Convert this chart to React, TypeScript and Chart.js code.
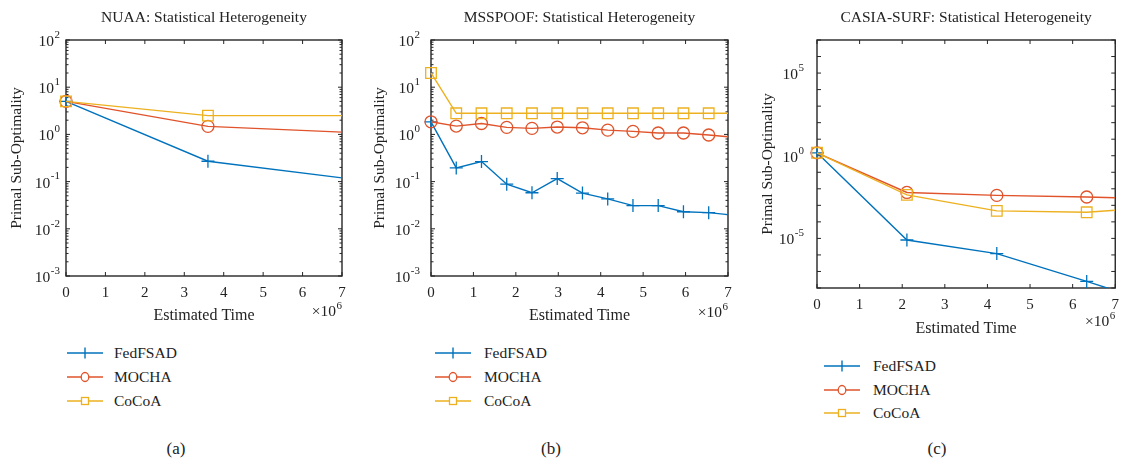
import React, { useEffect, useRef } from 'react';
import { Chart, registerables } from 'chart.js';

Chart.register(...registerables);

// ---------------- data ----------------
const SERIES_NAMES = ['FedFSAD', 'MOCHA', 'CoCoA'];

// (a) NUAA
const nuaaTime = [0, 3.6e6, 7e6];
const nuaaMarked = [true, true, false];
const nuaaFedFSAD = [5.0, 0.27, 0.12];
const nuaaMOCHA = [5.0, 1.48, 1.12];
const nuaaCoCoA = [5.0, 2.5, 2.5];

// (b) MSSPOOF
const mssTime = [0, 0.595e6, 1.19e6, 1.785e6, 2.38e6, 2.975e6, 3.57e6, 4.165e6, 4.76e6, 5.355e6, 5.95e6, 6.545e6, 7e6];
const mssMarked = [true, true, true, true, true, true, true, true, true, true, true, true, false];
const mssFedFSAD = [1.85, 0.195, 0.266, 0.088, 0.058, 0.116, 0.057, 0.043, 0.031, 0.031, 0.023, 0.022, 0.020];
const mssMOCHA = [1.85, 1.5, 1.7, 1.41, 1.34, 1.43, 1.38, 1.23, 1.16, 1.07, 1.07, 0.97, 0.89];
const mssCoCoA = [20, 2.8, 2.8, 2.8, 2.8, 2.8, 2.8, 2.8, 2.8, 2.8, 2.8, 2.8, 2.8];

// (c) CASIA-SURF
const casiaTime = [0, 2.11e6, 4.22e6, 6.33e6, 7e6];
const casiaMarked = [true, true, true, true, false];
const casiaFedFSAD = [1.5, 8e-6, 1.2e-6, 2.5e-8, 7e-9];
const casiaMOCHA = [1.5, 6e-3, 4e-3, 3.2e-3, 2.9e-3];
const casiaCoCoA = [1.5, 4.3e-3, 4.6e-4, 3.8e-4, 5e-4];

// x tick labels (in units of 10^6)
const xTickValues = [0, 1, 2, 3, 4, 5, 6, 7];
// y decades (exponents)
const nuaaExps = [-3, -2, -1, 0, 1, 2];
const mssExps = [-3, -2, -1, 0, 1, 2];
const casiaExps = [-8, -7, -6, -5, -4, -3, -2, -1, 0, 1, 2, 3, 4, 5, 6, 7];
const casiaLabelExps = [-5, 0, 5];

const PANEL_TITLES = [
  'NUAA: Statistical Heterogeneity',
  'MSSPOOF: Statistical Heterogeneity',
  'CASIA-SURF: Statistical Heterogeneity',
];
const CAPTIONS = ['(a)', '(b)', '(c)'];

// ---------------- styles ----------------
const FONT = '"Liberation Serif", "Times New Roman", serif';
const AXIS = '#262626';
const TEXT = '#222222';
const COLORS = ['#0072BD', '#E0532B', '#EDB120'];
const POINT_STYLES = ['cross', 'circle', 'rect'];
const POINT_RADII = [6.5, 6, 7.5];

const decorPlugin = {
  id: 'decor',
  beforeDatasetsDraw(chart: any, _args: any, opts: any) {
    const { ctx, chartArea } = chart;
    const { left, right, top, bottom } = chartArea;
    const xs = chart.scales.x;
    const ys = chart.scales.y;
    ctx.save();
    ctx.strokeStyle = AXIS;
    ctx.lineWidth = 1;
    ctx.beginPath();
    xs.ticks.forEach((t: any) => {
      const px = xs.getPixelForValue(t.value);
      ctx.moveTo(px, bottom);
      ctx.lineTo(px, bottom - 4);
      ctx.moveTo(px, top);
      ctx.lineTo(px, top + 4);
    });
    ys.ticks.forEach((t: any) => {
      const py = ys.getPixelForValue(t.value);
      const len = t.major ? 4 : 2.5;
      ctx.moveTo(left, py);
      ctx.lineTo(left + len, py);
      ctx.moveTo(right, py);
      ctx.lineTo(right - len, py);
    });
    ctx.stroke();
    ctx.lineWidth = 1.4;
    ctx.strokeRect(left, top, right - left, bottom - top);

    // y tick labels: 10 with raised exponent
    ctx.fillStyle = TEXT;
    ctx.textBaseline = 'middle';
    ys.ticks.forEach((t: any) => {
      if (!t.label) return;
      const py = ys.getPixelForValue(t.value);
      const exp = String(t.label);
      ctx.font = `11px ${FONT}`;
      const we = ctx.measureText(exp).width;
      ctx.textAlign = 'right';
      const xr = left - opts.yTickPad;
      ctx.fillText(exp, xr, py - 5);
      ctx.font = `15.5px ${FONT}`;
      ctx.fillText('10', xr - we - 0.5, py + 2);
    });
    ctx.restore();
  },
  afterDraw(chart: any, _args: any, opts: any) {
    const { ctx, chartArea } = chart;
    const { left, right } = chartArea;
    ctx.save();
    ctx.fillStyle = TEXT;
    ctx.font = `15.5px ${FONT}`;
    ctx.textAlign = 'center';
    ctx.textBaseline = 'middle';
    ctx.fillText(opts.title, (left + right) / 2, opts.titleY);
    // x10^6 multiplier
    ctx.font = `11px ${FONT}`;
    ctx.textAlign = 'right';
    const w6 = ctx.measureText('6').width;
    ctx.fillText('6', right, opts.expY - 6);
    ctx.font = `15.5px ${FONT}`;
    ctx.fillText('\u00D710', right - w6 - 0.5, opts.expY);
    ctx.restore();
  },
};

type Panel = {
  left: number; top: number; width: number; height: number;
  yAxisWidth: number; padRight: number; plotTop: number; xAxisHeight: number;
  yTitlePad: number; xTitlePadBottom: number; yTickPad: number; xTickPad: number;
  exps: number[]; labelExps: number[]; minor: boolean;
  title: string; titleY: number; expY: number;
  time: number[]; marked: boolean[]; values: number[][];
  legendLeft: number; legendTextLeft: number; legendRows: number[];
  caption: string; captionX: number;
};

const PANELS: Panel[] = [
  {
    left: 0, top: 0, width: 360, height: 330,
    yAxisWidth: 66, padRight: 18, plotTop: 40, xAxisHeight: 54,
    yTitlePad: 8, xTitlePadBottom: 5, yTickPad: 6, xTickPad: 8,
    exps: nuaaExps, labelExps: nuaaExps, minor: true,
    title: PANEL_TITLES[0], titleY: 18, expY: 312,
    time: nuaaTime, marked: nuaaMarked, values: [nuaaFedFSAD, nuaaMOCHA, nuaaCoCoA],
    legendLeft: 67, legendTextLeft: 114, legendRows: [353, 377, 401],
    caption: CAPTIONS[0], captionX: 176,
  },
  {
    left: 370, top: 0, width: 375, height: 330,
    yAxisWidth: 61, padRight: 17, plotTop: 40, xAxisHeight: 54,
    yTitlePad: 1, xTitlePadBottom: 5, yTickPad: 11, xTickPad: 8,
    exps: mssExps, labelExps: mssExps, minor: true,
    title: PANEL_TITLES[1], titleY: 18, expY: 313,
    time: mssTime, marked: mssMarked, values: [mssFedFSAD, mssMOCHA, mssCoCoA],
    legendLeft: 435, legendTextLeft: 484, legendRows: [353, 377, 401],
    caption: CAPTIONS[1], captionX: 551,
  },
  {
    left: 745, top: 0, width: 382, height: 345,
    yAxisWidth: 72, padRight: 10, plotTop: 40, xAxisHeight: 57,
    yTitlePad: 14, xTitlePadBottom: 7, yTickPad: 13, xTickPad: 8,
    exps: casiaExps, labelExps: casiaLabelExps, minor: false,
    title: PANEL_TITLES[2], titleY: 18, expY: 322,
    time: casiaTime, marked: casiaMarked, values: [casiaFedFSAD, casiaMOCHA, casiaCoCoA],
    legendLeft: 824, legendTextLeft: 873, legendRows: [366, 390, 413],
    caption: CAPTIONS[2], captionX: 937,
  },
];

function PanelChart({ p }: { p: Panel }) {
  const ref = useRef<HTMLCanvasElement>(null);
  useEffect(() => {
    if (!ref.current) return;
    const minExp = p.exps[0];
    const maxExp = p.exps[p.exps.length - 1];
    const tickFont = { family: FONT, size: 15 };
    const chart = new Chart(ref.current, {
      type: 'line',
      data: {
        datasets: SERIES_NAMES.map((name, si) => ({
          label: name,
          data: p.time.map((t, i) => ({ x: t, y: p.values[si][i] })),
          borderColor: COLORS[si],
          backgroundColor: 'rgba(0,0,0,0)',
          borderWidth: 1.4,
          pointStyle: POINT_STYLES[si] as any,
          pointRadius: p.marked.map((m) => (m ? POINT_RADII[si] : 0)),
          pointBorderColor: COLORS[si],
          pointBackgroundColor: 'rgba(0,0,0,0)',
          pointBorderWidth: 1.3,
          tension: 0,
          order: 3 - si,
          clip: { left: 12, top: 12, right: 0, bottom: 0 } as any,
        })),
      },
      options: {
        responsive: false,
        maintainAspectRatio: false,
        animation: false,
        events: [],
        layout: { padding: { top: p.plotTop, left: 0, right: p.padRight, bottom: 0 } },
        plugins: {
          legend: { display: false },
          tooltip: { enabled: false },
          title: { display: false },
          decor: { title: p.title, titleY: p.titleY, expY: p.expY, yTickPad: p.yTickPad },
        } as any,
        scales: {
          x: {
            type: 'linear',
            min: 0,
            max: 7e6,
            afterBuildTicks: (s: any) => {
              s.ticks = xTickValues.map((v) => ({ value: v * 1e6 }));
            },
            ticks: {
              callback: (v: any) => String(Math.round(Number(v) / 1e6)),
              font: tickFont,
              color: TEXT,
              padding: p.xTickPad,
              maxRotation: 0,
              autoSkip: false,
            },
            grid: { display: false, drawTicks: false },
            border: { display: false },
            title: {
              display: true,
              text: 'Estimated Time',
              font: { family: FONT, size: 16 },
              color: TEXT,
              padding: { top: 0, bottom: p.xTitlePadBottom },
            },
            afterFit: (s: any) => {
              s.height = p.xAxisHeight;
            },
          },
          y: {
            type: 'logarithmic',
            min: Math.pow(10, minExp),
            max: Math.pow(10, maxExp),
            afterBuildTicks: (s: any) => {
              const ticks: any[] = [];
              p.exps.forEach((e, idx) => {
                ticks.push({ value: Math.pow(10, e), major: p.labelExps.includes(e) || !p.minor });
                if (p.minor && idx < p.exps.length - 1) {
                  for (let k = 2; k <= 9; k++) ticks.push({ value: k * Math.pow(10, e), major: false });
                }
              });
              s.ticks = ticks;
            },
            ticks: {
              // exponent text; drawn as 10 with a raised exponent by the decor plugin
              callback: (v: any) => {
                const e = Math.round(Math.log10(Number(v)));
                if (Math.abs(Math.pow(10, e) - Number(v)) / Number(v) > 1e-6) return '';
                return p.labelExps.includes(e) ? String(e) : '';
              },
              display: false,
              autoSkip: false,
            },
            grid: { display: false, drawTicks: false },
            border: { display: false },
            title: {
              display: true,
              text: 'Primal Sub-Optimality',
              font: { family: FONT, size: 15.5 },
              color: TEXT,
              padding: { top: p.yTitlePad, bottom: 0 },
            },
            afterFit: (s: any) => {
              s.width = p.yAxisWidth;
            },
          },
        } as any,
      },
      plugins: [decorPlugin as any],
    });
    return () => chart.destroy();
  }, [p]);
  return (
    <canvas
      ref={ref}
      width={p.width}
      height={p.height}
      style={{ position: 'absolute', left: p.left, top: p.top, width: p.width, height: p.height }}
    />
  );
}

function LegendMarker({ si }: { si: number }) {
  const c = COLORS[si];
  return (
    <svg width={36} height={16} style={{ position: 'absolute', left: 0, top: -8 }}>
      <line x1={0} y1={8} x2={36} y2={8} stroke={c} strokeWidth={1.4} />
      {si === 0 && <line x1={18} y1={2.5} x2={18} y2={13.5} stroke={c} strokeWidth={1.4} />}
      {si === 1 && <ellipse cx={18} cy={8} rx={3.8} ry={4.5} fill="white" stroke={c} strokeWidth={1.3} />}
      {si === 2 && <rect x={14.5} y={4.5} width={7} height={7} fill="white" stroke={c} strokeWidth={1.3} />}
    </svg>
  );
}

export default function App() {
  return (
    <div style={{ position: 'fixed', left: 0, top: 0, width: 1127, height: 461, background: '#fff', overflow: 'hidden' }}>
      {PANELS.map((p, pi) => (
        <React.Fragment key={pi}>
          <PanelChart p={p} />
          {SERIES_NAMES.map((name, si) => (
            <div key={name} style={{ position: 'absolute', left: p.legendLeft, top: p.legendRows[si], width: 200, height: 0 }}>
              <LegendMarker si={si} />
              <span
                style={{
                  position: 'absolute',
                  left: p.legendTextLeft - p.legendLeft,
                  top: -10,
                  font: `15.5px ${FONT}`,
                  lineHeight: '20px',
                  color: TEXT,
                  whiteSpace: 'nowrap',
                }}
              >
                {name}
              </span>
            </div>
          ))}
          <div
            style={{
              position: 'absolute',
              left: p.captionX - 30,
              top: 449 - 11,
              width: 60,
              textAlign: 'center',
              font: `17px ${FONT}`,
              lineHeight: '22px',
              color: TEXT,
            }}
          >
            {p.caption}
          </div>
        </React.Fragment>
      ))}
    </div>
  );
}
